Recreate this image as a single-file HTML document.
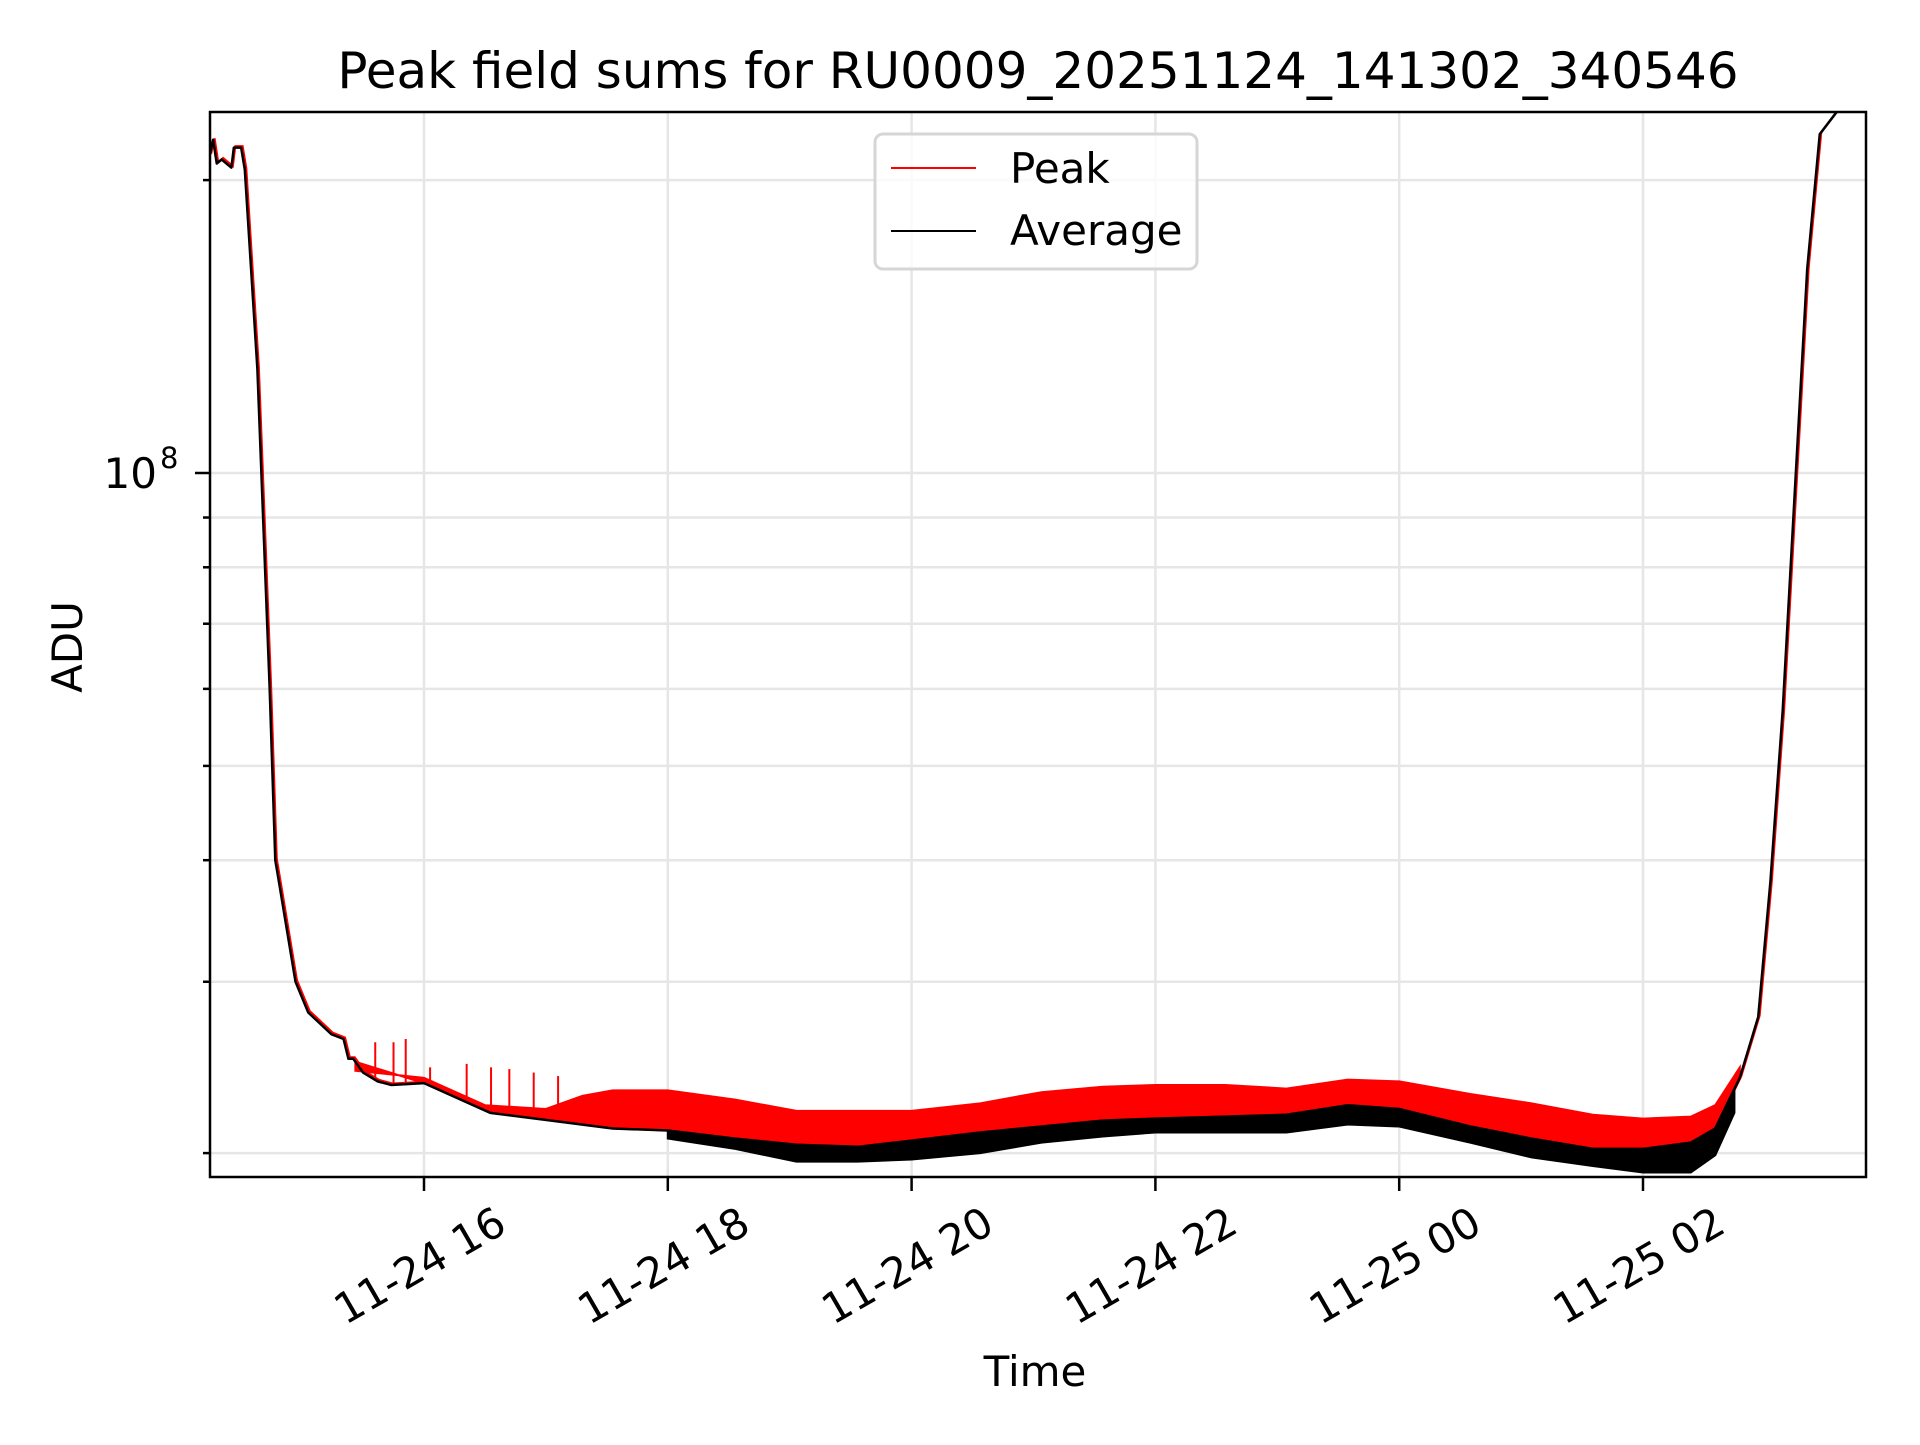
<!DOCTYPE html>
<html><head><meta charset="utf-8"><style>
html,body{margin:0;padding:0;background:#fff;}
svg text{font-family:"DejaVu Sans","Liberation Sans",sans-serif;fill:#000;}
</style></head><body>
<svg id="chart" xmlns="http://www.w3.org/2000/svg" width="1920" height="1440" viewBox="0 0 1920 1440">
<rect x="0" y="0" width="1920" height="1440" fill="#fff"/>
<defs><clipPath id="clip"><rect x="210" y="112" width="1656" height="1065"/></clipPath></defs>
<g id="grid"></g>
<g id="series" clip-path="url(#clip)"></g>
<rect x="210" y="112" width="1656" height="1065" fill="none" stroke="#000" stroke-width="2.5"/>
<g id="axes"></g>
<text x="1038" y="88" font-size="50" text-anchor="middle">Peak field sums for RU0009_20251124_141302_340546</text>
<text x="1035" y="1386" font-size="42" text-anchor="middle">Time</text>
<text x="82" y="647" font-size="42" text-anchor="middle" transform="rotate(-90 82 647)">ADU</text>
<g>
<rect x="875" y="134" width="322" height="135" rx="8" fill="#fff" fill-opacity="0.8" stroke="#d6d6d6" stroke-width="3"/>
<line x1="891" y1="168" x2="976" y2="168" stroke="#f00" stroke-width="2"/>
<text x="1010" y="183" font-size="42">Peak</text>
<line x1="891" y1="231" x2="976" y2="231" stroke="#000" stroke-width="2"/>
<text x="1010" y="245" font-size="42">Average</text>
</g>
</svg>
<script>
// times in hours since 11-24 14:00, values in units of 1e7 ADU
const avgTimes = [0.241,0.27,0.30,0.34,0.42,0.44,0.50,0.53,0.633,0.734,0.78,0.807,0.946,1.05,1.24,1.34,1.38,1.42,1.50,1.62,1.73,2,2.543,3.045,3.548,4,4.553,5.055,5.558,6,6.563,7.065,7.568,8,8.573,9.075,9.578,10,10.583,11.085,11.588,12,12.392,12.593,12.794,12.945,13.045,13.146,13.246,13.347,13.45,13.6];
const avgValues = [21.2,22.0,20.8,21.0,20.6,21.6,21.6,20.5,12.8,6.0,4.0,3.82,3.0,2.79,2.65,2.62,2.5,2.5,2.42,2.37,2.35,2.36,2.2,2.16,2.12,2.11,2.07,2.04,2.03,2.06,2.10,2.13,2.16,2.17,2.18,2.19,2.24,2.22,2.13,2.07,2.02,2.02,2.05,2.12,2.39,2.76,3.8,5.7,9.6,16.2,22.3,23.6];
const peakTimes = [1.437,2.0,2.5,3.0,3.3,3.548,4,4.553,5.055,5.558,6,6.563,7.065,7.568,8,8.573,9.075,9.578,10,10.583,11.085,11.588,12,12.392,12.593,12.794];
const peakValues = [2.43,2.39,2.24,2.22,2.29,2.32,2.32,2.27,2.21,2.21,2.21,2.25,2.31,2.34,2.35,2.35,2.33,2.38,2.37,2.30,2.25,2.19,2.17,2.18,2.24,2.45];
const minTimes = [4,4.553,5.055,5.558,6,6.563,7.065,7.568,8,8.573,9.075,9.578,10,10.583,11.085,11.588,12,12.392,12.593,12.75];
const minValues = [2.07,2.02,1.96,1.96,1.97,2.0,2.05,2.08,2.10,2.10,2.10,2.14,2.13,2.05,1.98,1.94,1.91,1.91,1.99,2.2];
const spikeTimes = [1.6,1.75,1.85,2.05,2.35,2.55,2.7,2.9,3.1];
const spikeValues = [2.6,2.6,2.62,2.45,2.47,2.45,2.44,2.42,2.40];
const xTickHours = [2,4,6,8,10,12];
const xTickLabels = ["11-24 16","11-24 18","11-24 20","11-24 22","11-25 00","11-25 02"];
const yMinorTicks = [2,3,4,5,6,7,8,9,20];
const yMajorTicks = [10];

const NS="http://www.w3.org/2000/svg";
function xs(h){return 424+(h-2)*121.9;}
function ys(v){return 473-(Math.log10(v*1e7)-8)*973;}
function interp(ts,vs,t){
  if(t<=ts[0])return vs[0];
  for(let i=1;i<ts.length;i++){if(t<=ts[i]){const f=(t-ts[i-1])/(ts[i]-ts[i-1]);return Math.exp(Math.log(vs[i-1])+f*(Math.log(vs[i])-Math.log(vs[i-1])));}}
  return vs[vs.length-1];
}
function mk(tag,attrs,parent){const e=document.createElementNS(NS,tag);for(const k in attrs)e.setAttribute(k,attrs[k]);parent.appendChild(e);return e;}
const grid=document.getElementById('grid'),axes=document.getElementById('axes'),series=document.getElementById('series');
xTickHours.forEach((h,i)=>{
  const x=xs(h);
  const g=mk('line',{x1:x,y1:112,x2:x,y2:1177,stroke:'#e6e6e6','stroke-width':2.5},grid);
  
  
  const t=mk('line',{x1:x,y1:1177,x2:x,y2:1191,stroke:'#000','stroke-width':2.5},axes);
  
  
  const lb=mk('text',{x:x-4,y:1280,'font-size':42,'text-anchor':'middle',transform:'rotate(-30 '+(x-4)+' 1266)'},axes);
  lb.textContent=xTickLabels[i];
  
  
});
yMinorTicks.concat(yMajorTicks).forEach(v=>{
  const y=ys(v);
  const g=mk('line',{x1:210,y1:y,x2:1866,y2:y,stroke:'#e6e6e6','stroke-width':2.5},grid);
  
  
  const major=yMajorTicks.includes(v);
  const t=mk('line',{x1:major?195:203,y1:y,x2:210,y2:y,stroke:'#000','stroke-width':2.5},axes);
  
  
});
yMajorTicks.forEach(v=>{
  const y=ys(v);
  const lb=mk('text',{x:157,y:y+15,'font-size':42,'text-anchor':'end'},axes);
  lb.textContent='10';
  
  
  const sp=mk('text',{x:160,y:y-5,'font-size':29},axes);
  sp.textContent='8';
  
  
});
let pts=[];
peakTimes.forEach((t,i)=>pts.push(xs(t)+','+ys(peakValues[i])));
for(let i=peakTimes.length-1;i>=0;i--){pts.push(xs(peakTimes[i])+','+ys(interp(avgTimes,avgValues,peakTimes[i])));}
const redBand=mk('polygon',{points:pts.join(' '),fill:'#f00',stroke:'#f00','stroke-width':2},series);


spikeTimes.forEach((t,i)=>{
  const x=xs(t);
  const s=mk('line',{x1:x,y1:ys(spikeValues[i]),x2:x,y2:ys(interp(avgTimes,avgValues,t)),stroke:'#f00','stroke-width':2},series);
  
  
});
const redLine=mk('polyline',{points:avgTimes.map((t,i)=>(xs(t)+1.5)+','+(ys(avgValues[i])-1.5)).join(' '),fill:'none',stroke:'#f00','stroke-width':2},series);


pts=[];
minTimes.forEach(t=>pts.push(xs(t)+','+ys(interp(avgTimes,avgValues,t))));
for(let i=minTimes.length-1;i>=0;i--)pts.push(xs(minTimes[i])+','+ys(minValues[i]));
const blackBand=mk('polygon',{points:pts.join(' '),fill:'#000',stroke:'#000','stroke-width':2},series);


const avgLine=mk('polyline',{points:avgTimes.map((t,i)=>xs(t)+','+ys(avgValues[i])).join(' '),fill:'none',stroke:'#000','stroke-width':2.5,'stroke-linejoin':'round'},series);


</script>
</body></html>
